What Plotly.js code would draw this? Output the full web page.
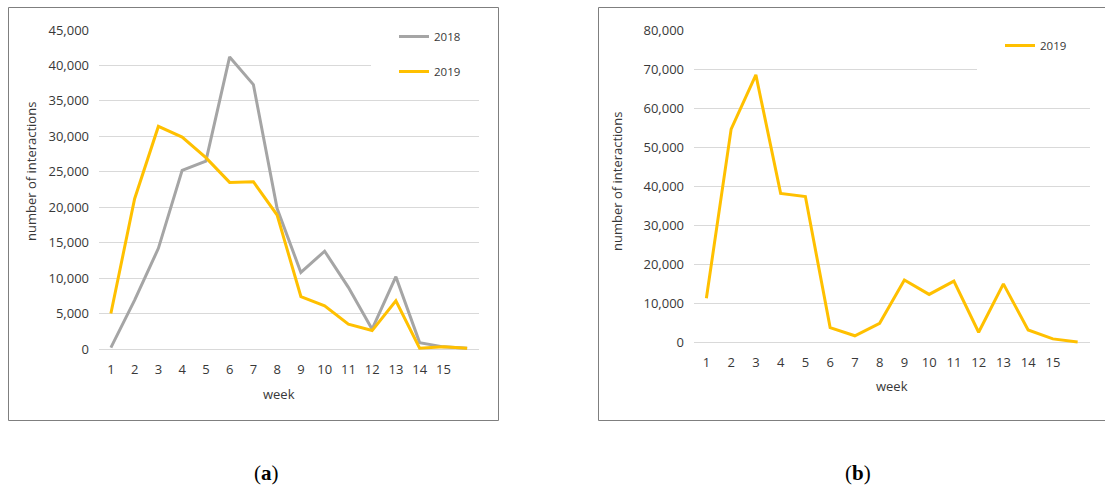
<!DOCTYPE html>
<html>
<head>
<meta charset="utf-8">
<script src="https://cdn.plot.ly/plotly-3.0.1.min.js"></script>
<style>
  html, body { margin: 0; padding: 0; background: #ffffff; }
  #chart { width: 1105px; height: 491px; }
</style>
</head>
<body>
<div id="chart"></div>
<script>
// ---- data ----
var weeks = [1, 2, 3, 4, 5, 6, 7, 8, 9, 10, 11, 12, 13, 14, 15, 16];
var weekLabels = ["1", "2", "3", "4", "5", "6", "7", "8", "9", "10", "11", "12", "13", "14", "15", ""];
var interactions2018a = [200, 6900, 14200, 25200, 26500, 41200, 37300, 19800, 10800, 13800, 8700, 2800, 10200, 900, 300, 100];
var interactions2019a = [5000, 21200, 31400, 29900, 27000, 23500, 23600, 18900, 7400, 6100, 3500, 2600, 6800, 100, 300, 100];
var interactions2019b = [11200, 54600, 68500, 38100, 37300, 3700, 1600, 4800, 15900, 12200, 15600, 2500, 14900, 3100, 800, 0];
var seriesNames = ["2018", "2019"];
var axisTitleX = "week";
var axisTitleY = "number of interactions";
var panelLabels = ["a", "b"];

// ---- layout helpers (pixel -> paper) ----
var W = 1105, H = 491;
function px(x) { return x / W; }
function py(y) { return 1 - y / H; }

var GRAY = "#A5A5A5", GOLD = "#FFC000", GRID = "#D9D9D9", TXT = "#383838";
var FONT = "Open Sans, sans-serif";

var traces = [
  { x: weeks, y: interactions2018a, name: seriesNames[0], type: "scatter", mode: "lines",
    line: { color: GRAY, width: 3 }, xaxis: "x", yaxis: "y", legend: "legend", legendgroup: "g1" },
  { x: weeks, y: interactions2019a, name: seriesNames[1], type: "scatter", mode: "lines",
    line: { color: GOLD, width: 3 }, xaxis: "x", yaxis: "y", legend: "legend", legendgroup: "g2" },
  { x: weeks, y: interactions2019b, name: seriesNames[1], type: "scatter", mode: "lines",
    line: { color: GOLD, width: 3 }, xaxis: "x2", yaxis: "y2", legend: "legend2", legendgroup: "g3" }
];

function xAxis(d0, d1, anchor) {
  return {
    domain: [px(d0), px(d1)], anchor: anchor, range: [0.5, 16.5],
    tickmode: "array", tickvals: weeks, ticktext: weekLabels,
    showgrid: false, zeroline: false, showline: false, ticks: "",
    ticklabelstandoff: 9,
    tickfont: { family: FONT, size: 13, color: TXT }, fixedrange: true
  };
}
function yAxis(top, bottom, maxV, dt, anchor) {
  var span = bottom - top;
  var lowV = -2 * maxV / span; // 2px of headroom below zero
  return {
    domain: [py(bottom + 2), py(top)], anchor: anchor, range: [lowV, maxV],
    tick0: 0, dtick: dt, tickformat: ",d",
    showgrid: true, gridcolor: GRID, gridwidth: 1, zeroline: false, showline: false, ticks: "",
    ticklabelstandoff: 9,
    tickfont: { family: FONT, size: 13, color: TXT }, fixedrange: true
  };
}

var layout = {
  width: W, height: H,
  margin: { l: 0, r: 0, t: 0, b: 0 },
  paper_bgcolor: "#ffffff", plot_bgcolor: "rgba(0,0,0,0)",
  showlegend: true,
  font: { family: FONT, color: TXT },
  xaxis: xAxis(99, 479, "y"),
  yaxis: yAxis(30, 349, 45000, 5000, "x"),
  xaxis2: xAxis(694, 1090, "y2"),
  yaxis2: yAxis(30, 342, 80000, 10000, "x2"),
  legend: {
    x: px(394), y: py(22), xanchor: "left", yanchor: "top",
    bgcolor: "rgba(0,0,0,0)", borderwidth: 0,
    traceorder: "grouped", tracegroupgap: 16,
    itemwidth: 30,
    font: { family: FONT, size: 11.5, color: TXT }
  },
  legend2: {
    x: px(1000), y: py(31), xanchor: "left", yanchor: "top",
    bgcolor: "rgba(0,0,0,0)", borderwidth: 0,
    itemwidth: 30,
    font: { family: FONT, size: 11.5, color: TXT }
  },
  shapes: [
    // panel frames
    { type: "rect", xref: "paper", yref: "paper", x0: px(8.5), x1: px(498.5), y0: py(420.5), y1: py(7.5),
      line: { color: "#7F7F7F", width: 1 }, fillcolor: "rgba(0,0,0,0)", layer: "above" },
    { type: "rect", xref: "paper", yref: "paper", x0: px(598.5), x1: px(1112), y0: py(420.5), y1: py(7.5),
      line: { color: "#7F7F7F", width: 1 }, fillcolor: "rgba(0,0,0,0)", layer: "above" },
    // legend backgrounds hiding top gridlines
    { type: "rect", xref: "paper", yref: "paper", x0: px(371), x1: px(485), y0: py(90), y1: py(20),
      line: { width: 0 }, fillcolor: "#ffffff", layer: "above" },
    { type: "rect", xref: "paper", yref: "paper", x0: px(977), x1: px(1095), y0: py(75), y1: py(20),
      line: { width: 0 }, fillcolor: "#ffffff", layer: "above" }
  ],
  annotations: [
    { xref: "paper", yref: "paper", x: px(279), y: py(394), text: axisTitleX, showarrow: false,
      xanchor: "center", yanchor: "middle", font: { family: FONT, size: 13, color: TXT } },
    { xref: "paper", yref: "paper", x: px(892), y: py(386), text: axisTitleX, showarrow: false,
      xanchor: "center", yanchor: "middle", font: { family: FONT, size: 13, color: TXT } },
    { xref: "paper", yref: "paper", x: px(31), y: py(172), text: axisTitleY, showarrow: false, textangle: -90,
      xanchor: "center", yanchor: "middle", font: { family: FONT, size: 13, color: TXT } },
    { xref: "paper", yref: "paper", x: px(617), y: py(182), text: axisTitleY, showarrow: false, textangle: -90,
      xanchor: "center", yanchor: "middle", font: { family: FONT, size: 13, color: TXT } },
    { xref: "paper", yref: "paper", x: px(266), y: py(473), text: "(<b>" + panelLabels[0] + "</b>)", showarrow: false,
      xanchor: "center", yanchor: "middle", font: { family: "Liberation Serif, serif", size: 21, color: "#000000" } },
    { xref: "paper", yref: "paper", x: px(858), y: py(473), text: "(<b>" + panelLabels[1] + "</b>)", showarrow: false,
      xanchor: "center", yanchor: "middle", font: { family: "Liberation Serif, serif", size: 21, color: "#000000" } }
  ]
};

Plotly.newPlot("chart", traces, layout, { displayModeBar: false, staticPlot: true });
</script>
</body>
</html>
